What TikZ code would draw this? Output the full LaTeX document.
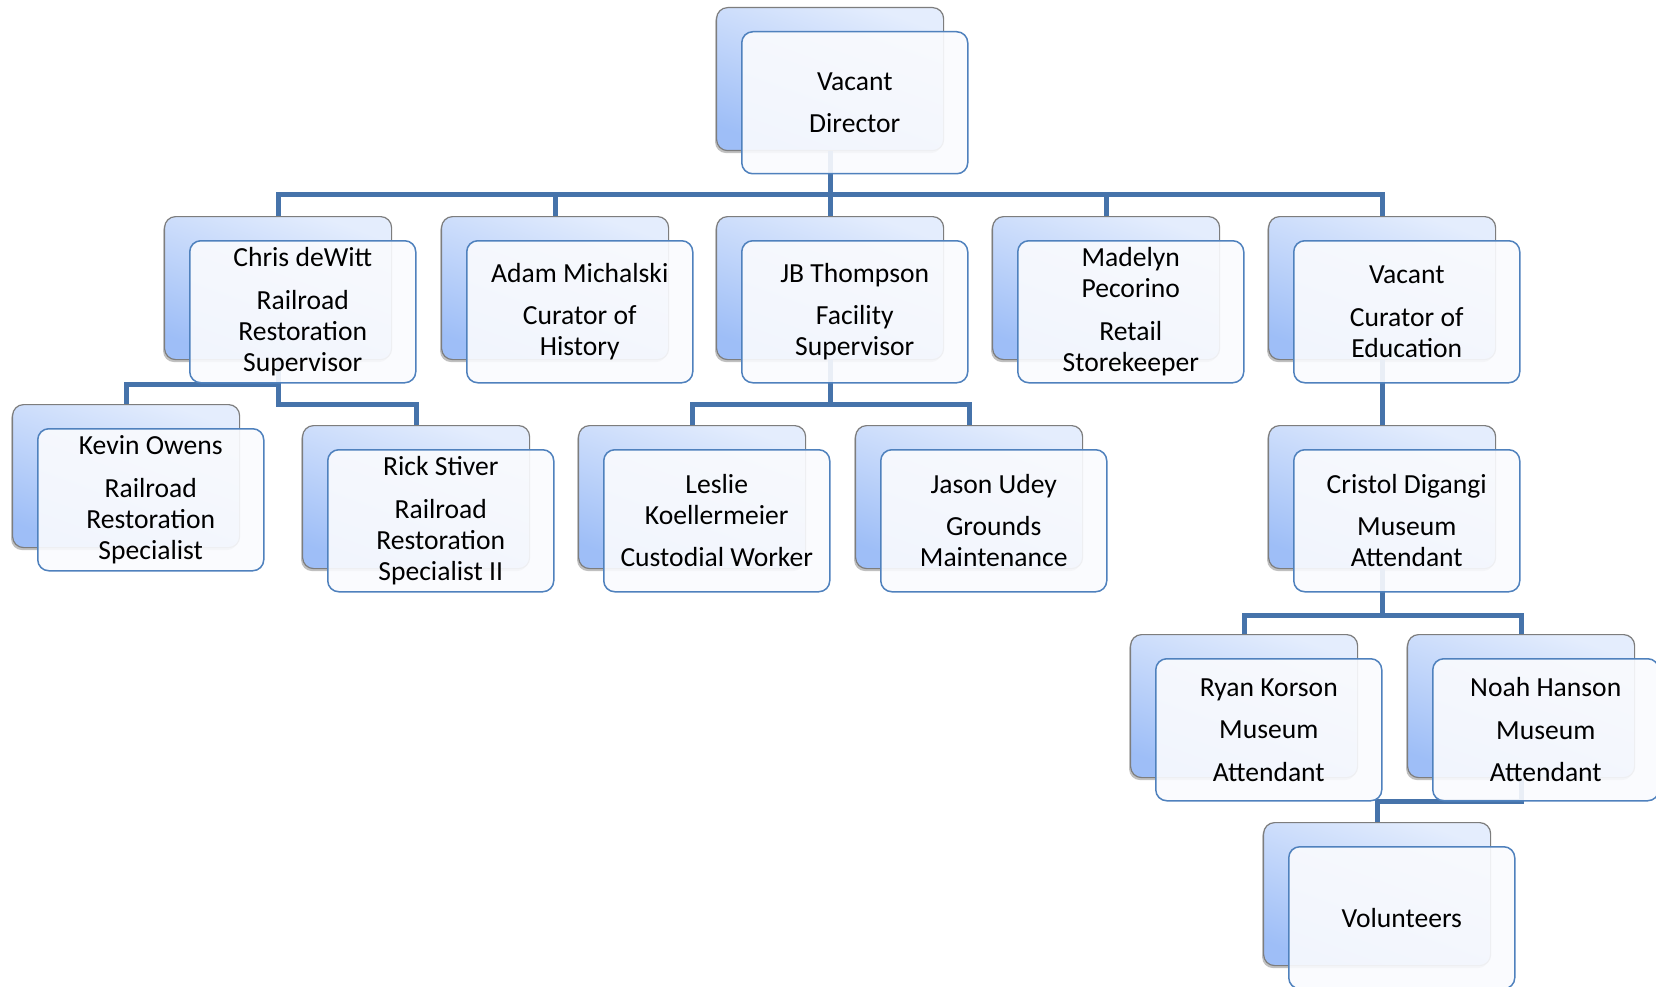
\documentclass[tikz,border=0pt]{standalone}
\usepackage{fontspec}
\setmainfont{Carlito}
\usetikzlibrary{shadows}
\definecolor{conn}{RGB}{70,115,170}
\definecolor{frontline}{RGB}{79,129,189}
\definecolor{backtop}{RGB}{228,237,253}
\definecolor{backbot}{RGB}{158,190,247}
\definecolor{backline}{RGB}{125,125,125}
\definecolor{frontfill}{RGB}{250,251,254}
\tikzset{
  backbox/.style={draw=backline, line width=1.2pt, rounded corners=11pt,
    minimum width=227pt, minimum height=143pt, inner sep=0pt, anchor=north west,
    top color=backtop, bottom color=backbot, shading angle=-20,
    drop shadow={shadow xshift=-1.5pt, shadow yshift=-2.5pt, opacity=0.35, fill=black!70}},
  frontbox/.style={draw=frontline, line width=1.5pt, rounded corners=11pt,
    minimum width=226pt, minimum height=142pt, inner sep=2pt, anchor=north west,
    fill=frontfill, fill opacity=0.91, text opacity=1, align=center,
    font=\fontsize{27.6}{31}\selectfont},
  link/.style={draw=conn, line width=5pt},
}
\newcommand{\pg}{\\[11.5pt]}
\begin{document}
\begin{tikzpicture}[x=1pt,y=-1pt]
\fill[white] (0,0) rectangle (1656,987);
\useasboundingbox (0,0) rectangle (1656,987);
% back boxes
\node[backbox] (dirB) at (716,7) {};
\node[backbox] (chrisB) at (164,216) {};
\node[backbox] (adamB) at (441,216) {};
\node[backbox] (jbB) at (716,216) {};
\node[backbox] (madB) at (992,216) {};
\node[backbox] (veduB) at (1268,216) {};
\node[backbox] (kevinB) at (12,404) {};
\node[backbox] (rickB) at (302,425) {};
\node[backbox] (leslieB) at (578,425) {};
\node[backbox] (jasonB) at (855,425) {};
\node[backbox] (cristolB) at (1268,425) {};
\node[backbox] (ryanB) at (1130,634) {};
\node[backbox] (noahB) at (1407,634) {};
\node[backbox] (volB) at (1263,822) {};
% connectors
\coordinate (barA) at (0,195);
\coordinate (barB) at (0,384);
\coordinate (barC) at (0,404);
\coordinate (barD) at (0,615);
\coordinate (barE) at (0,801);
\foreach \c in {chrisB,adamB,jbB,madB,veduB}
  \draw[link] (dirB.south) -- (dirB.south |- barA) -| (\c.north);
\draw[link] (chrisB.south) -- (chrisB.south |- barB) -| (kevinB.north);
\draw[link] (chrisB.south) -- (chrisB.south |- barC) -| (rickB.north);
\draw[link] (jbB.south) -- (jbB.south |- barC) -| (leslieB.north);
\draw[link] (jbB.south) -- (jbB.south |- barC) -| (jasonB.north);
\draw[link] (veduB.south) -- (cristolB.north);
\draw[link] (cristolB.south) -- (cristolB.south |- barD) -| (ryanB.north);
\draw[link] (cristolB.south) -- (cristolB.south |- barD) -| (noahB.north);
\draw[link] (noahB.south) -- (noahB.south |- barE) -| (volB.north);
% front boxes
\node[frontbox] (dirF) at (741,31) {Vacant\pg Director};
\node[frontbox] (chrisF) at (189,240) {Chris deWitt\pg Railroad\\Restoration\\Supervisor};
\node[frontbox] (adamF) at (466,240) {Adam Michalski\pg Curator of\\History};
\node[frontbox] (jbF) at (741,240) {JB Thompson\pg Facility\\Supervisor};
\node[frontbox] (madF) at (1017,240) {Madelyn\\Pecorino\pg Retail\\Storekeeper};
\node[frontbox] (veduF) at (1293,240) {Vacant\pg Curator of\\Education};
\node[frontbox] (kevinF) at (37,428) {Kevin Owens\pg Railroad\\Restoration\\Specialist};
\node[frontbox] (rickF) at (327,449) {Rick Stiver\pg Railroad\\Restoration\\Specialist II};
\node[frontbox] (leslieF) at (603,449) {Leslie\\Koellermeier\pg Custodial Worker};
\node[frontbox] (jasonF) at (880,449) {Jason Udey\pg Grounds\\Maintenance};
\node[frontbox] (cristolF) at (1293,449) {Cristol Digangi\pg Museum\\Attendant};
\node[frontbox] (ryanF) at (1155,658) {Ryan Korson\pg Museum\pg Attendant};
\node[frontbox] (noahF) at (1432,658) {Noah Hanson\pg Museum\pg Attendant};
\node[frontbox] (volF) at (1288,846) {Volunteers};
\end{tikzpicture}
\end{document}
